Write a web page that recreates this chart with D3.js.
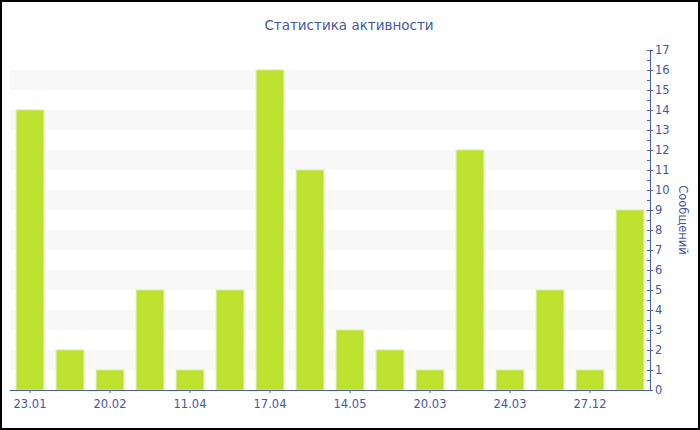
<!DOCTYPE html>
<html><head><meta charset="utf-8">
<script src="https://cdn.jsdelivr.net/npm/d3@7"></script>
<style>body{margin:0;background:#fff}svg{display:block}text{font-family:"DejaVu Sans",Verdana,sans-serif}</style>
</head><body><svg id="c" width="700" height="430"></svg>
<script>
const title = "Статистика активности";
const yTitle = "Сообщений";
const categories = ["23.01","c2","20.02","c4","11.04","c6","17.04","c8","14.05","c10","20.03","c12","24.03","c14","27.12","c16"];
const shownLabels = ["23.01","20.02","11.04","17.04","14.05","20.03","24.03","27.12"];
const values = [14, 2, 1, 5, 1, 5, 16, 11, 3, 2, 1, 12, 1, 5, 1, 9];
const yTicks = d3.range(0, 18);

const svg = d3.select("#c");
const W = 700, H = 430;
const m = {l: 10, r: 50, t: 50, b: 40};
const textColor = "#4258a3";
const axisColor = "#4a5fa5";

svg.append("rect").attr("x",1).attr("y",1).attr("width",W-2).attr("height",H-2)
  .attr("fill","#fff").attr("stroke","#000").attr("stroke-width",2);

const x = d3.scaleBand().domain(categories).range([m.l, W - m.r]).paddingInner(0.31).paddingOuter(0.155);
const y = d3.scaleLinear().domain([0, 17]).range([H - m.b, m.t]);

// alternating bands
const bands = d3.range(1, 17, 2);
svg.append("g").selectAll("rect").data(bands).join("rect")
  .attr("x", m.l).attr("width", W - m.r - m.l)
  .attr("y", d => y(d + 1)).attr("height", d => y(d) - y(d + 1))
  .attr("fill", "#f8f8f8");

// bars
svg.append("g").selectAll("rect").data(values).join("rect")
  .attr("x", (d, i) => x(categories[i]))
  .attr("width", x.bandwidth())
  .attr("y", d => y(d))
  .attr("height", d => y(0) - y(d))
  .attr("fill", "#bde12f")
  .attr("stroke", "#d6ed8c").attr("stroke-width", 1);

// x axis
const xAxis = svg.append("g").attr("transform", `translate(0,${H - m.b})`)
  .call(d3.axisBottom(x).tickValues(shownLabels).tickSize(3).tickSizeOuter(0));
xAxis.select(".domain").attr("stroke", axisColor).attr("d", `M${m.l},0.5H${W - m.r}`);
xAxis.selectAll(".tick line").attr("stroke", axisColor);
xAxis.selectAll(".tick text").attr("fill", textColor).attr("font-size", 11.5).attr("dy", "1em")
  .attr("font-family", "DejaVu Sans, Verdana, sans-serif");

// y axis
const ax = W - m.r;
const yAxis = svg.append("g").attr("transform", `translate(${ax},0)`)
  .call(d3.axisRight(y).tickValues(yTicks).tickSize(3).tickSizeOuter(0).tickPadding(2));
yAxis.select(".domain").attr("stroke", axisColor);
yAxis.selectAll(".tick line").attr("stroke", axisColor).attr("x1", -3).attr("x2", 3);
yAxis.selectAll(".tick text").attr("fill", textColor).attr("font-size", 11.5)
  .attr("font-family", "DejaVu Sans, Verdana, sans-serif");
// minor ticks
svg.append("g").selectAll("line").data(d3.range(0.5, 17, 1)).join("line")
  .attr("x1", ax - 3).attr("x2", ax).attr("y1", d => Math.round(y(d)) + 0.5).attr("y2", d => Math.round(y(d)) + 0.5)
  .attr("stroke", axisColor);

// titles
svg.append("text").attr("x", 349).attr("y", 30).attr("text-anchor", "middle")
  .attr("fill", textColor).attr("font-size", 13.5).text(title);
svg.append("text").attr("transform", `translate(679,220) rotate(90)`).attr("text-anchor", "middle")
  .attr("fill", textColor).attr("font-size", 11.5).text(yTitle);
</script></body></html>
